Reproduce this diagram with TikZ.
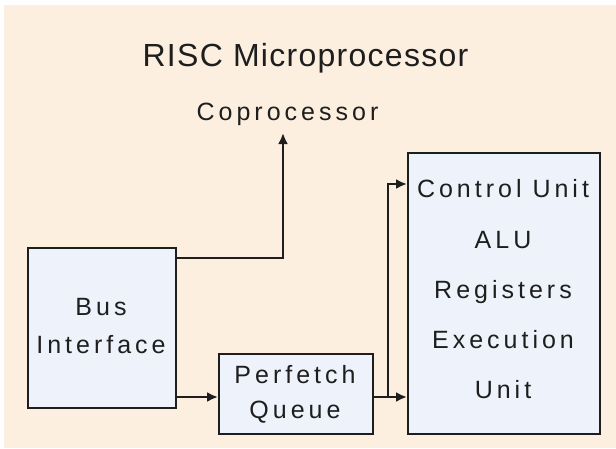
\documentclass[tikz,border=0pt]{standalone}
\usepackage{fontspec}
\setmainfont{Liberation Sans}
\newfontfamily\widefont[LetterSpace=16]{Liberation Sans}
\newfontfamily\titlefont[LetterSpace=4]{Liberation Sans}
\usetikzlibrary{arrows.meta}
\definecolor{cream}{HTML}{FCEFDF}
\definecolor{boxfill}{HTML}{EEF3FB}
\definecolor{ink}{HTML}{1E1E1E}
\tikzset{
  blk/.style={draw=ink, line width=2.4pt, fill=boxfill, inner sep=0pt, anchor=north west},
  lbl/.style={anchor=base, inner sep=0pt, text=ink, font=\widefont\fontsize{25}{30}\selectfont},
  ttl/.style={anchor=base, inner sep=0pt, text=ink, font=\titlefont\fontsize{32}{38}\selectfont},
  conn/.style={draw=ink, line width=2.4pt, -{Latex[length=11pt,width=10pt]}},
  wire/.style={draw=ink, line width=2.4pt}
}
\begin{document}
\begin{tikzpicture}[x=1pt,y=-1pt]
\useasboundingbox (0,0) rectangle (616,448);
\fill[white] (0,0) rectangle (616,448);
\fill[cream] (4,5) rectangle (616,448);
% boxes
\node[blk, minimum width=148pt, minimum height=160pt] (bus) at (27,247) {};
\node[blk, minimum width=154pt, minimum height=80pt] (perf) at (218,353) {};
\node[blk, minimum width=192pt, minimum height=281pt] (exec) at (407,152) {};
% texts
\node[ttl] (title) at (305.5,66) {RISC Microprocessor};
\node[lbl] (copro) at (287.5,120) {Coprocessor};
\node[lbl] (bus1) at (101,315) {Bus};
\node[lbl] (bus2) at (101,353) {Interface};
\node[lbl] (perf1) at (295,383) {Perfetch};
\node[lbl] (perf2) at (295,418) {Queue};
\node[lbl] (ex1) at (503,197) {Control Unit};
\node[lbl] (ex2) at (503,248) {ALU};
\node[lbl] (ex3) at (503,298) {Registers};
\node[lbl] (ex4) at (503,348) {Execution};
\node[lbl] (ex5) at (503,398) {Unit};
% helper coordinates
\coordinate (ytop) at (0,258);
\coordinate (ylow) at (0,397);
\coordinate (yctl) at (0,184);
\coordinate (bend) at (283,258);
\coordinate (cptip) at (283,133);
\coordinate (split) at (388,397);
\coordinate (splittop) at (388,184);
% connectors
\draw[conn] (bus.east |- ytop) -- (bend) -- (cptip);
\draw[conn] (bus.east |- ylow) -- (perf.west |- ylow);
\draw[conn] (perf.east |- ylow) -- (exec.west |- ylow);
\draw[conn] (split) -- (splittop) -- (exec.west |- yctl);
\end{tikzpicture}
\end{document}
